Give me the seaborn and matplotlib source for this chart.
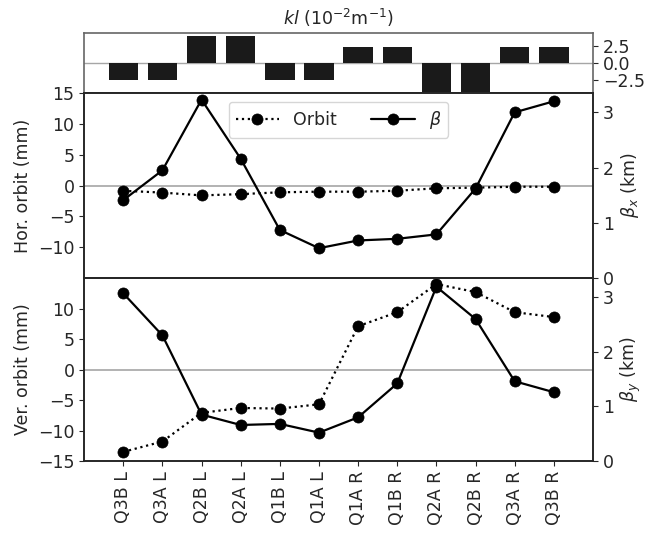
import numpy as np
import pandas as pd
from matplotlib import pyplot as plt
from matplotlib.lines import Line2D
import seaborn as sns

# magnet names and values
magnets = ["Q3B L", "Q3A L", "Q2B L", "Q2A L", "Q1B L", "Q1A L",
           "Q1A R", "Q1B R", "Q2A R", "Q2B R", "Q3A R", "Q3B R"]
kl = [-2.5, -2.5, 4.0, 4.0, -2.5, -2.5, 2.4, 2.4, -4.2, -4.2, 2.4, 2.4]
orbit_x = [-0.85, -1.15, -1.6, -1.4, -1.1, -1.0, -1.0, -0.85, -0.45, -0.35, -0.2, -0.2]
beta_x = [1.41, 1.95, 3.23, 2.16, 0.87, 0.54, 0.68, 0.71, 0.79, 1.62, 3.0, 3.2]
orbit_y = [-13.5, -11.8, -7.1, -6.3, -6.4, -5.7, 7.1, 9.4, 14.0, 12.7, 9.4, 8.6]
beta_y = [3.07, 2.30, 0.85, 0.66, 0.68, 0.52, 0.80, 1.42, 3.19, 2.60, 1.46, 1.26]

df = pd.DataFrame({"pos": np.arange(len(magnets)), "name": magnets, "kl": kl,
                   "orbit_x": orbit_x, "beta_x": beta_x,
                   "orbit_y": orbit_y, "beta_y": beta_y})

sns.set_style("ticks")
plt.rcParams['font.family'] = ['DejaVu Sans']
plt.rcParams['font.size'] = 12.5
plt.rcParams['axes.linewidth'] = 1.2

fig = plt.figure(figsize=(6.47, 5.33), dpi=100)
left, width = 0.130, 0.7865
ax_k = fig.add_axes([left, 0.8255, width, 0.1125])
ax_h = fig.add_axes([left, 0.4784, width, 0.3471])
ax_v = fig.add_axes([left, 0.135, width, 0.3434])

line_kws = dict(color="k", marker="o", markersize=8, markeredgecolor="k",
                markeredgewidth=0.5, lw=1.6)

# quadrupole strengths
sns.barplot(data=df, x="pos", y="kl", color="0.1", width=0.75,
            saturation=1, native_scale=True, linewidth=0, ax=ax_k)
ax_k.axhline(0, color="0.65", lw=1, zorder=0)
ax_k.set_xlim(-1, 12)
ax_k.set_ylim(-4.4, 4.4)
ax_k.set_xticks([])
ax_k.yaxis.tick_right()
ax_k.set_yticks([-2.5, 0, 2.5])
ax_k.set_xlabel("")
ax_k.set_ylabel("")
for side in ["top", "left", "right"]:
    ax_k.spines[side].set_color("0.4")
ax_k.set_title(r"$kl$ (10$^{-2}$m$^{-1}$)", fontsize=12.5, pad=6)

for ax, orb, beta, ylab, blab, yt in [
        (ax_h, "orbit_x", "beta_x", "Hor. orbit (mm)", r"$\beta_x$ (km)", [-10, -5, 0, 5, 10, 15]),
        (ax_v, "orbit_y", "beta_y", "Ver. orbit (mm)", r"$\beta_y$ (km)", [-15, -10, -5, 0, 5, 10])]:
    ax.axhline(0, color="0.65", lw=1.2, zorder=0)
    sns.lineplot(data=df, x="pos", y=orb, linestyle=":", ax=ax, **line_kws)
    ax.set_ylim(-15, 15)
    ax.set_yticks(yt)
    ax.set_xlim(-1, 12)
    ax.set_ylabel(ylab)
    ax.set_xlabel("")
    tw = ax.twinx()
    sns.lineplot(data=df, x="pos", y=beta, linestyle="-", ax=tw, **line_kws)
    tw.set_ylim(0, 3.35)
    tw.set_yticks([0, 1, 2, 3])
    tw.set_ylabel(blab)
    tw.set_xlim(-1, 12)

ax_h.set_xticks([])
ax_v.set_xticks(df["pos"])
ax_v.set_xticklabels(magnets, rotation=90)

handles = [Line2D([], [], linestyle=":", **line_kws),
           Line2D([], [], linestyle="-", **line_kws)]
ax_h.legend(handles, ["Orbit", r"$\beta$"], loc="upper center", ncol=2,
            handlelength=2.5, columnspacing=2.0, fontsize=12.5)

fig.savefig("out.png", dpi=100)
